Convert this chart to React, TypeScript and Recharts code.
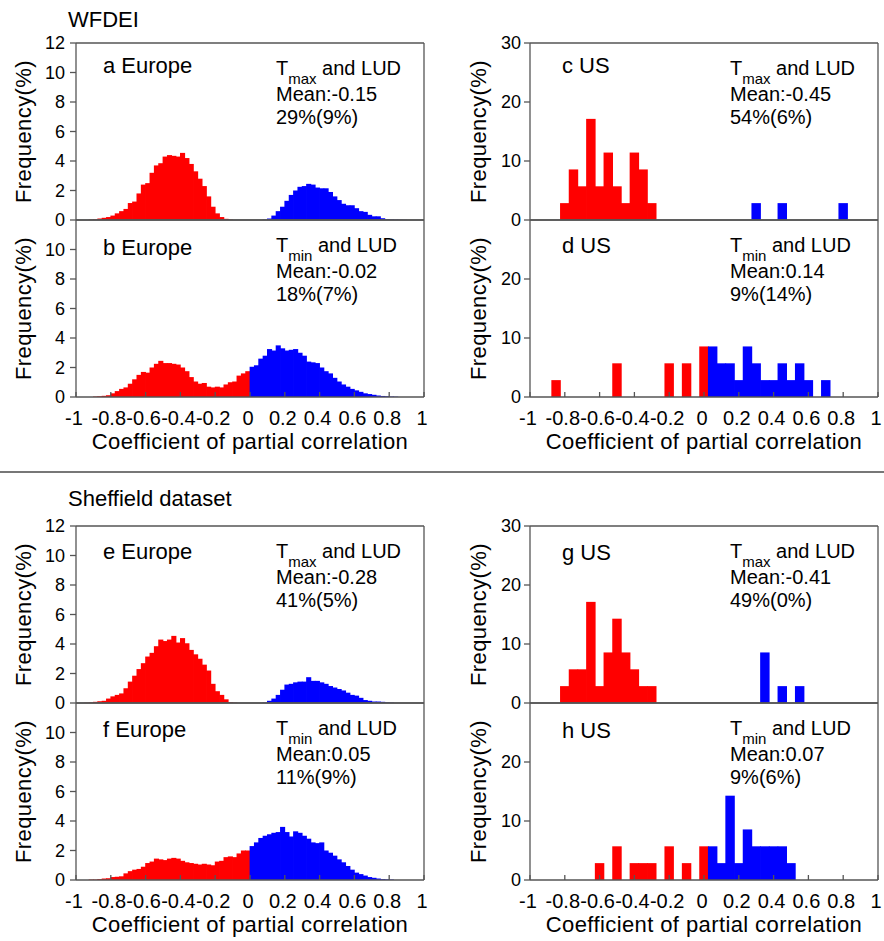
import React from "react";
import { BarChart, Bar, XAxis, YAxis, Customized } from "recharts";

const FONT = '"Liberation Sans", Arial, Helvetica, sans-serif';
const RED = "#ff0000";
const BLUE = "#0000ff";
const AXIS = "#555555";

// bin centres, Europe 0.025 wide, US 0.05 wide
const EU_BINS = [
  -0.9875, -0.9625, -0.9375, -0.9125, -0.8875, -0.8625, -0.8375, -0.8125, -0.7875, -0.7625,
  -0.7375, -0.7125, -0.6875, -0.6625, -0.6375, -0.6125, -0.5875, -0.5625, -0.5375, -0.5125,
  -0.4875, -0.4625, -0.4375, -0.4125, -0.3875, -0.3625, -0.3375, -0.3125, -0.2875, -0.2625,
  -0.2375, -0.2125, -0.1875, -0.1625, -0.1375, -0.1125, -0.0875, -0.0625, -0.0375, -0.0125,
  0.0125, 0.0375, 0.0625, 0.0875, 0.1125, 0.1375, 0.1625, 0.1875, 0.2125, 0.2375,
  0.2625, 0.2875, 0.3125, 0.3375, 0.3625, 0.3875, 0.4125, 0.4375, 0.4625, 0.4875,
  0.5125, 0.5375, 0.5625, 0.5875, 0.6125, 0.6375, 0.6625, 0.6875, 0.7125, 0.7375,
  0.7625, 0.7875, 0.8125, 0.8375, 0.8625, 0.8875, 0.9125, 0.9375, 0.9625, 0.9875,
];
const US_BINS = [
  -1, -0.95, -0.9, -0.85, -0.8, -0.75, -0.7, -0.65, -0.6, -0.55, -0.5, -0.45, -0.4, -0.35,
  -0.3, -0.25, -0.2, -0.15, -0.1, -0.05, 0, 0.05, 0.1, 0.15, 0.2, 0.25, 0.3, 0.35, 0.4,
  0.45, 0.5, 0.55, 0.6, 0.65, 0.7, 0.75, 0.8, 0.85, 0.9, 0.95, 1,
];

const X_TICKS = [-1, -0.8, -0.6, -0.4, -0.2, 0, 0.2, 0.4, 0.6, 0.8, 1];
const TOP_TICKS = [-0.5, 0, 0.5];
const EU_Y_TICKS = [0, 2, 4, 6, 8, 10, 12];
const EU_Y_TICKS_LOW = [0, 2, 4, 6, 8, 10];
const US_Y_TICKS = [0, 10, 20, 30];
const US_Y_TICKS_LOW = [0, 10, 20];

// frequencies (%) per bin
const wfdeiEuropeTmax = [
  0, 0, 0, 0.03, 0.05, 0.1, 0.15, 0.2, 0.3, 0.45, 0.6, 0.75, 1.15, 1.25, 1.8, 2.4, 2.5, 3.2,
  3.7, 3.85, 4.3, 4.4, 4.35, 4.3, 4.55, 4.2, 3.8, 3.3, 2.8, 2.3, 1.6, 0.9, 0.45, 0.2, 0.08,
  0.03, 0, 0, 0, 0, 0, 0, 0, 0.03, 0.1, 0.3, 0.6, 0.9, 1.3, 1.7, 2.0, 2.25, 2.3, 2.45, 2.4,
  2.2, 2.15, 2.15, 1.9, 1.6, 1.35, 1.1, 1.0, 1.0, 0.8, 0.6, 0.55, 0.35, 0.25, 0.25, 0.12,
  0.06, 0.04, 0.03, 0.02, 0.01, 0, 0, 0, 0,
];
const wfdeiEuropeTmin = [
  0, 0, 0, 0, 0.03, 0.05, 0.08, 0.12, 0.25, 0.4, 0.55, 0.65, 0.9, 1.2, 1.5, 1.7, 1.65, 2.0,
  2.25, 2.45, 2.3, 2.3, 2.25, 2.2, 2.0, 1.75, 1.35, 1.05, 0.9, 0.95, 0.7, 0.65, 0.7, 0.65,
  0.85, 1.0, 1.05, 1.45, 1.6, 1.75, 2.05, 2.15, 2.6, 2.8, 3.25, 3.15, 3.5, 3.3, 3.15, 3.2,
  3.25, 3.0, 2.8, 2.4, 2.35, 2.3, 2.0, 1.75, 1.6, 1.3, 1.05, 0.85, 0.7, 0.55, 0.45, 0.35,
  0.25, 0.2, 0.15, 0.1, 0.07, 0.05, 0.03, 0.02, 0, 0, 0, 0, 0, 0,
];
const sheffieldEuropeTmax = [
  0, 0, 0.02, 0.04, 0.08, 0.12, 0.15, 0.3, 0.45, 0.55, 0.65, 1.0, 1.45, 1.85, 2.3, 2.7, 3.15,
  3.4, 3.85, 4.3, 4.2, 4.3, 4.55, 4.1, 4.4, 4.05, 3.6, 3.3, 3.0, 2.6, 2.2, 1.3, 0.8, 0.55,
  0.25, 0.06, 0.03, 0, 0, 0, 0, 0, 0, 0.03, 0.15, 0.3, 0.55, 0.9, 1.25, 1.3, 1.4, 1.45, 1.45,
  1.75, 1.5, 1.5, 1.4, 1.3, 1.15, 1.05, 0.95, 0.85, 0.7, 0.55, 0.5, 0.35, 0.2, 0.15, 0.1, 0.1,
  0.08, 0.05, 0.03, 0, 0, 0, 0, 0, 0, 0,
];
const sheffieldEuropeTmin = [
  0, 0, 0, 0.03, 0.03, 0.06, 0.1, 0.12, 0.2, 0.22, 0.25, 0.45, 0.6, 0.7, 0.75, 0.9, 1.15,
  1.25, 1.45, 1.4, 1.35, 1.45, 1.5, 1.45, 1.3, 1.2, 1.15, 1.1, 1.05, 1.1, 1.05, 1.0, 1.25,
  1.3, 1.55, 1.6, 1.55, 1.8, 2.0, 2.0, 2.3, 2.55, 2.85, 3.0, 3.1, 3.2, 3.25, 3.6, 3.25, 2.95,
  3.3, 3.2, 3.0, 2.8, 2.55, 2.5, 2.55, 2.0, 1.85, 1.65, 1.4, 1.2, 0.95, 0.7, 0.5, 0.4, 0.3,
  0.2, 0.15, 0.1, 0.06, 0.04, 0.03, 0, 0, 0, 0, 0, 0, 0,
];
const wfdeiUsTmax = [
  0, 0, 0, 0, 2.86, 8.57, 5.71, 17.14, 5.71, 11.43, 5.71, 2.86, 11.43, 8.57, 2.86, 0, 0, 0,
  0, 0, 0, 0, 0, 0, 0, 0, 2.86, 0, 0, 2.86, 0, 0, 0, 0, 0, 0, 2.86, 0, 0, 0, 0,
];
const wfdeiUsTmin = [
  0, 0, 0, 2.86, 0, 0, 0, 0, 0, 0, 5.71, 0, 0, 0, 0, 0, 5.71, 0, 5.71, 0, 8.57, 8.57, 5.71,
  5.71, 2.86, 8.57, 5.71, 2.86, 2.86, 5.71, 2.86, 5.71, 2.86, 0, 2.86, 0, 0, 0, 0, 0, 0,
];
const sheffieldUsTmax = [
  0, 0, 0, 0, 2.86, 5.71, 5.71, 17.14, 2.86, 8.57, 14.29, 8.57, 5.71, 2.86, 2.86, 0, 0, 0, 0,
  0, 0, 0, 0, 0, 0, 0, 0, 8.57, 0, 2.86, 0, 2.86, 0, 0, 0, 0, 0, 0, 0, 0, 0,
];
const sheffieldUsTmin = [
  0, 0, 0, 0, 0, 0, 0, 0, 2.86, 0, 5.71, 0, 2.86, 2.86, 2.86, 0, 5.71, 0, 2.86, 0, 5.71,
  5.71, 2.86, 14.29, 2.86, 8.57, 5.71, 5.71, 5.71, 5.71, 2.86, 0, 0, 0, 0, 0, 0, 0, 0, 0, 0,
];

const PLOT_TOP = 43;
const PLOT_H = 177;
const PLOT_W = 348;
const CHART_H = 281;

const COLS = {
  left: { width: 440, yLeft: 76, yRight: 16, tickMargin: 5, freqX: 31 },
  right: { width: 444, yLeft: 90, yRight: 6, tickMargin: 3, freqX: 46 },
};

const line = { stroke: AXIS, strokeWidth: 1.3 };

// histogram bar, widened a little so neighbouring bins join without seams
const HistBar = (props: any) => {
  const { x, y, width, height, payload } = props;
  if (!height || height <= 0) return null;
  return (
    <rect
      x={x - 0.4}
      y={y}
      width={width + 0.8}
      height={height}
      fill={payload.x <= 0 ? RED : BLUE}
    />
  );
};

const PanelText = ({ col, upper, label, labelDy, sub, mean, share, heading, headingY }: any) => {
  const g = COLS[col];
  const plotLeft = g.yLeft;
  const annX = plotLeft + 200;
  return (
    <g fontFamily={FONT} fill="#000">
      {heading && (
        <text x={68} y={headingY} fontSize={22}>
          {heading}
        </text>
      )}
      <text x={plotLeft + (col === "left" ? 27 : 32)} y={PLOT_TOP + labelDy} fontSize={22}>
        {label}
      </text>
      <text x={annX} y={PLOT_TOP + 32} fontSize={20}>
        <tspan>T</tspan>
        <tspan fontSize={15} dy={9}>
          {sub}
        </tspan>
        <tspan dy={-9}>{" and LUD"}</tspan>
      </text>
      <text x={annX} y={PLOT_TOP + 58} fontSize={20}>
        {mean}
      </text>
      <text x={annX} y={PLOT_TOP + 81} fontSize={20}>
        {share}
      </text>
      <text
        x={g.freqX}
        y={PLOT_TOP + PLOT_H / 2}
        fontSize={22}
        letterSpacing={0.4}
        textAnchor="middle"
        transform={`rotate(-90 ${g.freqX} ${PLOT_TOP + PLOT_H / 2})`}
      >
        Frequency(%)
      </text>
      {!upper && (
        <text
          x={plotLeft + PLOT_W / 2}
          y={PLOT_TOP + PLOT_H + 52}
          fontSize={22}
          letterSpacing={0.4}
          textAnchor="middle"
        >
          Coefficient of partial correlation
        </text>
      )}
    </g>
  );
};

const Panel = (p: any) => {
  const g = COLS[p.col];
  const data = p.bins.map((x: number, i: number) => ({ x, v: p.values[i] }));
  const binW = p.bins[1] - p.bins[0];
  const barSize = (PLOT_W * binW) / 2 - 0.05;
  return (
    <div style={{ position: "absolute", left: p.left, top: p.top }}>
      <BarChart
        width={g.width}
        height={CHART_H}
        data={data}
        margin={{ top: 0, right: 0, bottom: 0, left: 0 }}
        barGap={0}
        barCategoryGap={0}
        style={{ fontFamily: FONT }}
      >
        <XAxis
          xAxisId="top"
          orientation="top"
          type="number"
          domain={[-1, 1]}
          allowDataOverflow
          ticks={TOP_TICKS}
          tick={false}
          tickSize={-4}
          height={PLOT_TOP}
          axisLine={line}
          tickLine={p.upper ? line : false}
        />
        <XAxis
          dataKey="x"
          type="number"
          domain={[-1, 1]}
          allowDataOverflow
          ticks={X_TICKS}
          interval={0}
          height={CHART_H - PLOT_TOP - PLOT_H}
          tickSize={-5}
          tickMargin={19}
          tick={p.upper ? false : { fontSize: 20, fill: "#000", fontFamily: FONT, dx: -2 }}
          tickFormatter={(v: number) => String(v)}
          axisLine={line}
          tickLine={line}
        />
        <YAxis
          type="number"
          domain={[0, p.yMax]}
          allowDataOverflow
          ticks={p.yTicks}
          interval={0}
          width={g.yLeft}
          tickSize={6}
          tickMargin={g.tickMargin}
          tick={{ fontSize: 18, fill: "#000", fontFamily: FONT }}
          axisLine={line}
          tickLine={line}
        />
        <YAxis
          yAxisId="r"
          orientation="right"
          type="number"
          domain={[0, p.yMax]}
          allowDataOverflow
          ticks={p.yTicks}
          interval={0}
          width={g.yRight}
          tickSize={6}
          tick={false}
          axisLine={line}
          tickLine={line}
        />
        <Bar dataKey="v" barSize={barSize} isAnimationActive={false} shape={<HistBar />} />
        <Customized
          component={
            <PanelText
              col={p.col}
              upper={p.upper}
              label={p.label}
              labelDy={p.labelDy}
              sub={p.sub}
              mean={p.mean}
              share={p.share}
              heading={p.heading}
              headingY={p.headingY}
            />
          }
        />
      </BarChart>
    </div>
  );
};

export default function App() {
  return (
    <div
      style={{
        position: "absolute",
        left: 0,
        top: 0,
        width: 884,
        height: 941,
        overflow: "hidden",
        background: "#fff",
        fontFamily: FONT,
      }}
    >
      <Panel left={0} top={0} col="left" upper bins={EU_BINS} values={wfdeiEuropeTmax} yMax={12} yTicks={EU_Y_TICKS}
        label="a Europe" labelDy={30} sub="max" mean="Mean:-0.15" share="29%(9%)" heading="WFDEI" headingY={27} />
      <Panel left={0} top={177} col="left" upper={false} bins={EU_BINS} values={wfdeiEuropeTmin} yMax={12} yTicks={EU_Y_TICKS_LOW}
        label="b Europe" labelDy={35} sub="min" mean="Mean:-0.02" share="18%(7%)" />
      <Panel left={440} top={0} col="right" upper bins={US_BINS} values={wfdeiUsTmax} yMax={30} yTicks={US_Y_TICKS}
        label="c US" labelDy={30} sub="max" mean="Mean:-0.45" share="54%(6%)" />
      <Panel left={440} top={177} col="right" upper={false} bins={US_BINS} values={wfdeiUsTmin} yMax={30} yTicks={US_Y_TICKS_LOW}
        label="d US" labelDy={33} sub="min" mean="Mean:0.14" share="9%(14%)" />
      <div style={{ position: "absolute", left: 0, top: 471, width: 884, height: 1.5, background: "#777" }} />
      <Panel left={0} top={483} col="left" upper bins={EU_BINS} values={sheffieldEuropeTmax} yMax={12} yTicks={EU_Y_TICKS}
        label="e Europe" labelDy={33} sub="max" mean="Mean:-0.28" share="41%(5%)" heading="Sheffield dataset" headingY={23} />
      <Panel left={0} top={660} col="left" upper={false} bins={EU_BINS} values={sheffieldEuropeTmin} yMax={12} yTicks={EU_Y_TICKS_LOW}
        label="f Europe" labelDy={34} sub="min" mean="Mean:0.05" share="11%(9%)" />
      <Panel left={440} top={483} col="right" upper bins={US_BINS} values={sheffieldUsTmax} yMax={30} yTicks={US_Y_TICKS}
        label="g US" labelDy={34} sub="max" mean="Mean:-0.41" share="49%(0%)" />
      <Panel left={440} top={660} col="right" upper={false} bins={US_BINS} values={sheffieldUsTmin} yMax={30} yTicks={US_Y_TICKS_LOW}
        label="h US" labelDy={35} sub="min" mean="Mean:0.07" share="9%(6%)" />
    </div>
  );
}
